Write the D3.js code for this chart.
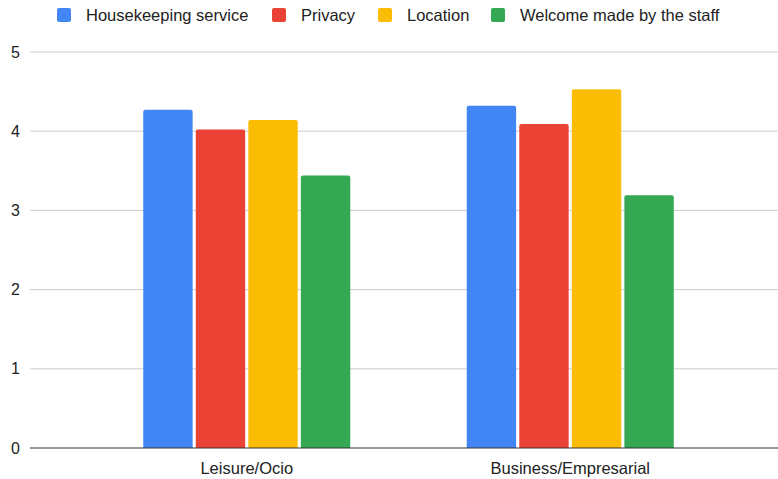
<!DOCTYPE html>
<html>
<head>
<meta charset="utf-8">
<script src="https://cdn.jsdelivr.net/npm/d3@7/dist/d3.min.js"></script>
<style>
  html, body { margin: 0; padding: 0; background: #fff; }
  svg { display: block; font-family: Arial, "Liberation Sans", sans-serif; }
</style>
</head>
<body>
<svg id="chart" width="778" height="479"></svg>
<script>
// Travel purpose groups and the average rating of each hotel attribute
const categories = ["Leisure/Ocio", "Business/Empresarial"];
const seriesNames = ["Housekeeping service", "Privacy", "Location", "Welcome made by the staff"];
const seriesColors = ["#4285f4", "#ea4335", "#fbbc04", "#34a853"];
const housekeepingScores = [4.27, 4.32];
const privacyScores = [4.02, 4.09];
const locationScores = [4.14, 4.53];
const welcomeScores = [3.44, 3.19];
const yTicks = [0, 1, 2, 3, 4, 5];

const seriesValues = [housekeepingScores, privacyScores, locationScores, welcomeScores];

const svg = d3.select("#chart");
const gridLeft = 30, gridRight = 778;
const plotTop = 52, plotBottom = 448;

const y = d3.scaleLinear().domain([0, 5]).range([plotBottom, plotTop]);
const x0 = d3.scaleBand().domain(categories).range([85, 732]).paddingInner(0.36).paddingOuter(0.18);
const x1 = d3.scaleBand().domain(seriesNames).range([0, x0.bandwidth()]).paddingInner(0.06);

// Horizontal gridlines
svg.append("g")
  .selectAll("line")
  .data(yTicks.filter(t => t !== 0))
  .join("line")
  .attr("x1", gridLeft).attr("x2", gridRight)
  .attr("y1", d => y(d)).attr("y2", d => y(d))
  .attr("stroke", "#cccccc").attr("stroke-width", 1);

// Y axis labels
const yAxis = d3.axisLeft(y).tickValues(yTicks).tickSize(0).tickPadding(0).tickFormat(d3.format("d"));
const yg = svg.append("g").attr("transform", `translate(20,0)`).call(yAxis);
yg.select(".domain").remove();
yg.selectAll("text").attr("font-size", 16).attr("fill", "#222").attr("font-family", "Arial, 'Liberation Sans', sans-serif");

// Bars
const groups = svg.append("g")
  .selectAll("g")
  .data(categories)
  .join("g")
  .attr("transform", d => `translate(${x0(d)},0)`);

groups.selectAll("path")
  .data((d, i) => seriesNames.map((s, j) => ({ series: s, value: seriesValues[j][i], color: seriesColors[j] })))
  .join("path")
  .attr("d", d => {
    const bx = x1(d.series), bw = x1.bandwidth();
    const top = y(d.value), bottom = y(0), r = 2;
    return `M${bx},${bottom} L${bx},${top + r} Q${bx},${top} ${bx + r},${top} L${bx + bw - r},${top} Q${bx + bw},${top} ${bx + bw},${top + r} L${bx + bw},${bottom} Z`;
  })
  .attr("fill", d => d.color);

// Baseline and category axis
const xAxis = d3.axisBottom(x0).tickSize(0).tickPadding(14);
const xg = svg.append("g").attr("transform", `translate(0,${plotBottom})`).call(xAxis);
xg.select(".domain").remove();
xg.selectAll("text").attr("font-size", 16.5).attr("fill", "#222").attr("font-family", "Arial, 'Liberation Sans', sans-serif");
svg.append("line")
  .attr("x1", gridLeft).attr("x2", gridRight)
  .attr("y1", plotBottom).attr("y2", plotBottom)
  .attr("stroke", "#333").attr("stroke-width", 1);

// Legend
const legendX = [57, 272, 378, 491];
const legend = svg.append("g")
  .selectAll("g")
  .data(seriesNames)
  .join("g")
  .attr("transform", (d, i) => `translate(${legendX[i]},8)`);
legend.append("rect")
  .attr("width", 14).attr("height", 14).attr("rx", 2)
  .attr("fill", (d, i) => seriesColors[i]);
legend.append("text")
  .attr("x", 29).attr("y", 12.5)
  .attr("font-size", 16.5).attr("fill", "#222")
  .text(d => d);
</script>
</body>
</html>
